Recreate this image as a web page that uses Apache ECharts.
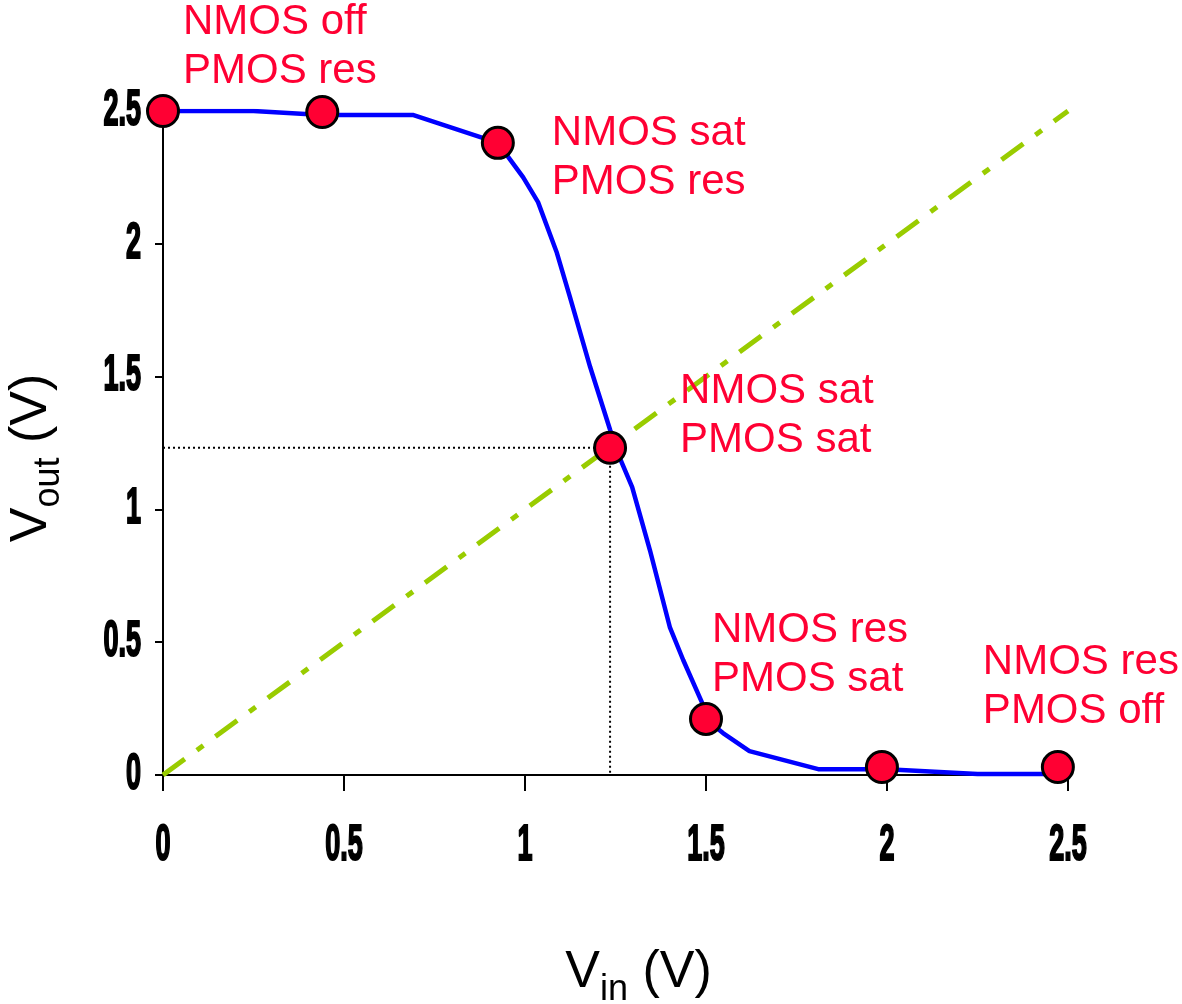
<!DOCTYPE html>
<html>
<head>
<meta charset="utf-8">
<script src="https://cdn.jsdelivr.net/npm/echarts@6/dist/echarts.min.js"></script>
<style>
html,body{margin:0;padding:0;background:#fff;}
#c{width:1182px;height:1004px;}
</style>
</head>
<body>
<div id="c"></div>
<script>
// ---- data ----
var tickValues = [0, 0.5, 1, 1.5, 2, 2.5];
var tickLabels = ['0', '0.5', '1', '1.5', '2', '2.5'];
var curveX = [0, 0.25, 0.44, 0.5, 0.69, 0.925, 0.995, 1.036, 1.088, 1.124, 1.18, 1.235, 1.26, 1.296, 1.345, 1.40, 1.437, 1.49, 1.5, 1.547, 1.62, 1.81, 2.0, 2.25, 2.47];
var curveY = [2.5, 2.5, 2.485, 2.485, 2.485, 2.38, 2.25, 2.157, 1.966, 1.80, 1.536, 1.30, 1.20, 1.084, 0.847, 0.557, 0.433, 0.27, 0.21, 0.158, 0.09, 0.022, 0.022, 0.004, 0.004];
var unityX = [0, 2.5];
var unityY = [0, 2.5];
var switchX = [0, 1.235, 1.235];
var switchY = [1.232, 1.232, 0];
var dotX = [0, 0.44, 0.925, 1.235, 1.5, 1.986, 2.472];
var dotY = [2.5, 2.496, 2.38, 1.232, 0.211, 0.03, 0.03];
var dotLabels = ['NMOS off\nPMOS res', '', 'NMOS sat\nPMOS res', 'NMOS sat\nPMOS sat', 'NMOS res\nPMOS sat', '', 'NMOS res\nPMOS off'];

// ---- layout / style ----
var labelOffsets = [[20, -64], [0, 0], [54, 15], [70, -32], [6, -64], [0, 0], [-75, -80]];
var RED = '#FF0033';
var SANS = "'Liberation Sans', Arial, sans-serif";

function pairs(xs, ys) { return xs.map(function (x, i) { return [x, ys[i]]; }); }

var dotData = dotX.map(function (x, i) {
  var item = { value: [x, dotY[i]] };
  if (dotLabels[i]) {
    item.label = {
      show: true,
      formatter: dotLabels[i],
      position: 'inside',
      align: 'left',
      verticalAlign: 'middle',
      offset: labelOffsets[i],
      color: RED,
      fontFamily: SANS,
      fontSize: 42,
      lineHeight: 49
    };
  }
  return item;
});

var nameRich = {
  v: { fontFamily: SANS, fontSize: 52, lineHeight: 60, color: '#000' },
  s: { fontFamily: SANS, fontSize: 36, lineHeight: 36, padding: [34, 0, 0, 0], color: '#000' }
};

var chart = echarts.init(document.getElementById('c'), null, { renderer: 'canvas' });
chart.setOption({
  animation: false,
  backgroundColor: '#fff',
  grid: { left: 163, right: 114, top: 111, bottom: 229, containLabel: false, outerBoundsMode: 'none' },
  xAxis: {
    type: 'value', min: 0, max: 2.5, interval: 0.5,
    splitLine: { show: false },
    axisLine: { show: true, onZero: false, lineStyle: { color: '#000', width: 2 } },
    axisTick: { show: true, length: 16, lineStyle: { color: '#000', width: 2 } },
    axisLabel: { show: false },
    name: '{v|V}{s|in}{v| (V)}',
    nameLocation: 'middle',
    nameGap: 168,
    nameTextStyle: { padding: [0, 0, 0, 46], rich: nameRich }
  },
  yAxis: {
    type: 'value', min: 0, max: 2.5, interval: 0.5,
    splitLine: { show: false },
    axisLine: { show: true, onZero: false, lineStyle: { color: '#000', width: 2 } },
    axisTick: { show: true, length: 8, lineStyle: { color: '#000', width: 2 } },
    axisLabel: { show: false },
    name: '{v|V}{s|out}{v| (V)}',
    nameLocation: 'middle',
    nameRotate: 90,
    nameGap: 101,
    nameTextStyle: { padding: [0, 30, 0, 0], rich: nameRich }
  },
  series: [
    {
      type: 'line', name: 'unity', data: pairs(unityX, unityY), symbol: 'none', z: 1,
      lineStyle: { color: '#99CC00', width: 5, type: [27, 15, 8, 15], cap: 'butt' }
    },
    {
      type: 'line', name: 'switch', data: pairs(switchX, switchY), symbol: 'none', z: 2,
      lineStyle: { color: '#000', width: 2, type: [2, 3] }
    },
    {
      type: 'line', name: 'vtc', data: pairs(curveX, curveY), symbol: 'none', z: 3,
      lineStyle: { color: '#0000FF', width: 4.5 }
    },
    {
      type: 'scatter', name: 'dots', data: dotData, symbol: 'circle', symbolSize: 31, z: 4,
      itemStyle: { color: RED, borderColor: '#000', borderWidth: 3, opacity: 1 }
    }
  ]
});

// Condensed bold tick labels placed at the axis scale positions
var tickStyle = { fontFamily: SANS, fontWeight: 'bold', fontSize: 50, fill: '#000', stroke: '#000', lineWidth: 2.2 };
var SX = 0.54;
var graphics = [];
tickValues.forEach(function (v, i) {
  var px = chart.convertToPixel({ gridIndex: 0 }, [v, 0]);
  var py = chart.convertToPixel({ gridIndex: 0 }, [0, v]);
  var axisY = px[1];
  var axisX = py[0];
  graphics.push({
    type: 'text', x: px[0], y: axisY + 71, scaleX: SX, z: 10,
    style: Object.assign({ text: tickLabels[i], x: 0, y: 0, align: 'center', verticalAlign: 'middle' }, tickStyle)
  });
  graphics.push({
    type: 'text', x: axisX - 22, y: py[1], scaleX: SX, z: 10,
    style: Object.assign({ text: tickLabels[i], x: 0, y: 0, align: 'right', verticalAlign: 'middle' }, tickStyle)
  });
});
chart.setOption({ graphic: graphics });
</script>
</body>
</html>
